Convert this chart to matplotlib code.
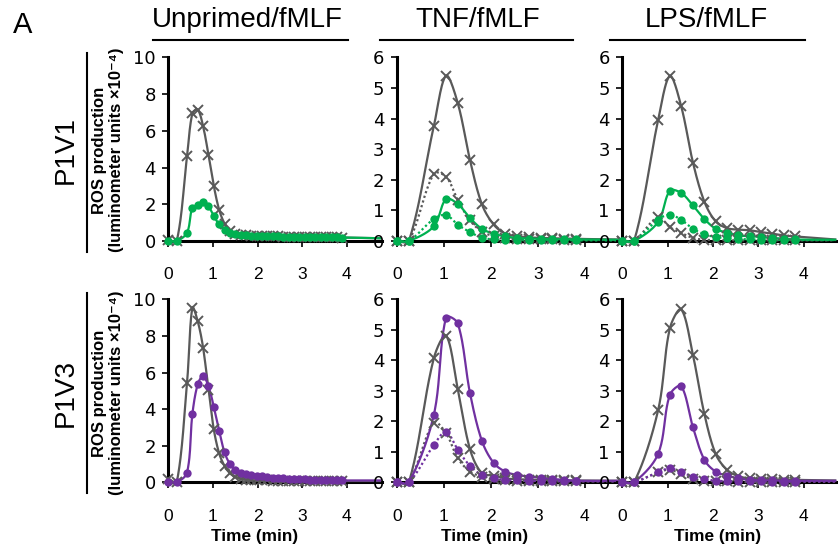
import numpy as np
import matplotlib
matplotlib.use("Agg")
import matplotlib.pyplot as plt
from matplotlib.lines import Line2D

plt.rcParams['font.family'] = ['Liberation Sans', 'DejaVu Sans']

# ---- data (ROS production, luminometer units x10^-4) ----
# time points (min); last value is the unmarked tail of each trace
t_unprimed = [0, 0.19, 0.42, 0.54, 0.66, 0.78, 0.90, 1.02, 1.14, 1.26, 1.38, 1.50,
              1.62, 1.74, 1.86, 1.98, 2.10, 2.22, 2.34, 2.46, 2.58, 2.70, 2.82, 2.94,
              3.06, 3.18, 3.30, 3.42, 3.54, 3.66, 3.78, 3.90, 4.75]
t_primed = [0, 0.26, 0.79, 1.05, 1.30, 1.56, 1.81, 2.06, 2.31, 2.56, 2.81, 3.06,
            3.31, 3.56, 3.81, 4.70]

# P1V1 row
p1v1_unp_gray = [0.05, 0, 4.6, 6.95, 7.15, 6.25, 4.7, 3.0, 1.7, 0.95, 0.55, 0.4,
                 0.34, 0.31, 0.29, 0.28, 0.27, 0.26, 0.25, 0.25, 0.24, 0.24, 0.23, 0.23,
                 0.22, 0.22, 0.21, 0.21, 0.2, 0.2, 0.2, 0.19, 0.15]
p1v1_unp_col = [0, 0, 0.45, 1.82, 1.95, 2.15, 1.9, 1.36, 0.9, 0.6, 0.44, 0.38,
                0.34, 0.31, 0.29, 0.28, 0.27, 0.26, 0.25, 0.25, 0.24, 0.24, 0.23, 0.23,
                0.22, 0.22, 0.21, 0.21, 0.2, 0.2, 0.2, 0.19, 0.15]
p1v1_tnf_gray = [0, 0, 3.75, 5.4, 4.5, 2.64, 1.21, 0.54, 0.24, 0.16, 0.12, 0.1, 0.09, 0.08, 0.07, 0.05]
p1v1_tnf_gray_dot = [0, 0, 2.2, 2.1, 1.34, 0.67, 0.31, 0.16, 0.1, 0.08, 0.06, 0.05, 0.05, 0.04, 0.04, 0.03]
p1v1_tnf_col = [0, 0, 0.48, 1.37, 1.21, 0.75, 0.4, 0.24, 0.15, 0.1, 0.08, 0.07, 0.06, 0.05, 0.05, 0.04]
p1v1_tnf_col_dot = [0, 0, 0.72, 0.85, 0.53, 0.29, 0.11, 0.05, 0.04, 0.03, 0.03, 0.03, 0.02, 0.02, 0.02, 0.02]
p1v1_lps_gray = [0, 0, 3.94, 5.39, 4.4, 2.56, 1.29, 0.64, 0.42, 0.37, 0.35, 0.29, 0.24, 0.18, 0.15, 0.05]
p1v1_lps_gray_dot = [0, 0, 0.78, 0.45, 0.26, 0.1, 0.04, 0.03, 0.03, 0.02, 0.02, 0.02, 0.02, 0.02, 0.02, 0.02]
p1v1_lps_col = [0, 0, 0.62, 1.64, 1.57, 1.16, 0.72, 0.4, 0.27, 0.18, 0.16, 0.13, 0.1, 0.08, 0.05, 0.04]
p1v1_lps_col_dot = [0, 0, 0.7, 0.86, 0.69, 0.4, 0.22, 0.13, 0.1, 0.07, 0.05, 0.04, 0.04, 0.03, 0.03, 0.03]

# P1V3 row
p1v3_unp_gray = [0.2, 0, 5.44, 9.55, 8.8, 7.36, 5.07, 2.89, 1.58, 0.9, 0.5, 0.3,
                 0.2, 0.15, 0.12, 0.11, 0.1, 0.1, 0.09, 0.09, 0.09, 0.08, 0.08, 0.08,
                 0.08, 0.08, 0.07, 0.07, 0.07, 0.07, 0.07, 0.07, 0.07]
p1v3_unp_col = [0, 0, 0.53, 3.73, 5.36, 5.8, 5.25, 4.13, 2.82, 1.64, 1.0, 0.67,
                0.52, 0.45, 0.4, 0.36, 0.32, 0.29, 0.26, 0.24, 0.22, 0.2, 0.18, 0.17,
                0.16, 0.15, 0.14, 0.13, 0.12, 0.12, 0.11, 0.1, 0.1]
p1v3_tnf_gray = [0, 0, 4.07, 4.81, 3.06, 1.08, 0.3, 0.22, 0.13, 0.1, 0.09, 0.08, 0.07, 0.06, 0.06, 0.05]
p1v3_tnf_gray_dot = [0, 0, 1.96, 1.61, 0.79, 0.35, 0.19, 0.1, 0.06, 0.05, 0.04, 0.04, 0.03, 0.03, 0.03, 0.03]
p1v3_tnf_col = [0, 0, 2.21, 5.4, 5.21, 2.92, 1.37, 0.64, 0.35, 0.24, 0.19, 0.15, 0.11, 0.08, 0.05, 0.05]
p1v3_tnf_col_dot = [0, 0, 1.22, 1.66, 1.06, 0.54, 0.24, 0.13, 0.08, 0.06, 0.05, 0.04, 0.04, 0.03, 0.03, 0.03]
p1v3_lps_gray = [0, 0, 2.36, 5.05, 5.67, 4.17, 2.25, 0.93, 0.41, 0.2, 0.13, 0.11, 0.1, 0.09, 0.08, 0.06]
p1v3_lps_gray_dot = [0, 0, 0.33, 0.41, 0.27, 0.11, 0.05, 0.03, 0.03, 0.02, 0.02, 0.02, 0.02, 0.02, 0.02, 0.02]
p1v3_lps_col = [0, 0, 0.93, 2.87, 3.15, 1.8, 0.74, 0.35, 0.22, 0.13, 0.09, 0.07, 0.06, 0.05, 0.05, 0.05]
p1v3_lps_col_dot = [0, 0, 0.33, 0.46, 0.33, 0.19, 0.11, 0.05, 0.04, 0.03, 0.03, 0.03, 0.02, 0.02, 0.02, 0.02]

col_titles = ["Unprimed/fMLF", "TNF/fMLF", "LPS/fMLF"]
row_titles = ["P1V1", "P1V3"]
GRAY = "#595959"
GREEN = "#00B050"
PURPLE = "#7030A0"
DOT = (0, (1, 1.2))


def smooth(x, y, sx, sy, n=24):
    # smoothed line through the points; tangents weighted by segment length
    # (in screen-like units) so short flat stretches do not overshoot much
    p = np.column_stack([np.asarray(x, float) * sx, np.asarray(y, float) * sy])
    p = np.vstack([p[0], p, p[-1]])
    seg = np.hypot(*np.diff(p, axis=0).T)
    out = []
    for i in range(1, len(p) - 2):
        a, b, c = seg[i - 1], seg[i], seg[i + 1]
        w1 = b / (a + b) / 3 if a + b > 0 else 0
        w2 = b / (b + c) / 3 if b + c > 0 else 0
        b0 = p[i]
        b1 = p[i] + (p[i + 1] - p[i - 1]) * w1
        b2 = p[i + 1] - (p[i + 2] - p[i]) * w2
        b3 = p[i + 1]
        s = np.linspace(0, 1, n)[:, None]
        out.append((1 - s) ** 3 * b0 + 3 * (1 - s) ** 2 * s * b1 + 3 * (1 - s) * s ** 2 * b2 + s ** 3 * b3)
    out = np.vstack(out)
    return out[:, 0] / sx, out[:, 1] / sy


def trace(ax, t, v, color, marker, ls, sx, sy):
    t = np.array(t)
    v = np.array(v)
    lx, ly = smooth(t, v, sx, sy)
    ax.plot(lx, ly, color=color, lw=1.6, ls=ls, clip_on=False, zorder=3)
    m = t <= 4.0
    if marker == "x":
        ax.plot(t[m], v[m], ls="none", marker="x", ms=6.5, mew=1.4, color=color, clip_on=False, zorder=4)
    else:
        ax.plot(t[m], v[m], ls="none", marker="o", ms=6, mew=0, color=color, clip_on=False, zorder=4)


fig = plt.figure(figsize=(8.38, 5.48), dpi=100)
W, H = 838.0, 548.0

# axes pixel boxes: (left, right, xmax)
xboxes = [(168.3, 382.4, 4.8), (396.7, 617.6, 4.7), (622.3, 837.5, 4.75)]
yboxes = [(57.3, 241.0), (299.3, 482.3)]

panels = [
    [(t_unprimed, [(p1v1_unp_gray, GRAY, "x", "-"), (p1v1_unp_col, GREEN, "o", "-")]),
     (t_primed, [(p1v1_tnf_gray, GRAY, "x", "-"), (p1v1_tnf_gray_dot, GRAY, "x", DOT),
                 (p1v1_tnf_col, GREEN, "o", "-"), (p1v1_tnf_col_dot, GREEN, "o", DOT)]),
     (t_primed, [(p1v1_lps_gray, GRAY, "x", "-"), (p1v1_lps_gray_dot, GRAY, "x", DOT),
                 (p1v1_lps_col, GREEN, "o", "-"), (p1v1_lps_col_dot, GREEN, "o", DOT)])],
    [(t_unprimed, [(p1v3_unp_gray, GRAY, "x", "-"), (p1v3_unp_col, PURPLE, "o", "-")]),
     (t_primed, [(p1v3_tnf_gray, GRAY, "x", "-"), (p1v3_tnf_gray_dot, GRAY, "x", DOT),
                 (p1v3_tnf_col, PURPLE, "o", "-"), (p1v3_tnf_col_dot, PURPLE, "o", DOT)]),
     (t_primed, [(p1v3_lps_gray, GRAY, "x", "-"), (p1v3_lps_gray_dot, GRAY, "x", DOT),
                 (p1v3_lps_col, PURPLE, "o", "-"), (p1v3_lps_col_dot, PURPLE, "o", DOT)])],
]

for r in range(2):
    top, bot = yboxes[r]
    for c in range(3):
        left, right, xmax = xboxes[c]
        ax = fig.add_axes([left / W, 1 - bot / H, (right - left) / W, (bot - top) / H])
        ymax = 10 if c == 0 else 6
        sx = (right - left) / xmax
        sy = (bot - top) / ymax
        t, series = panels[r][c]
        for v, color, marker, ls in series:
            trace(ax, t, v, color, marker, ls, sx, sy)
        ax.set_xlim(0, xmax)
        ax.set_ylim(0, ymax)
        ax.set_yticks(np.arange(0, ymax + 1, 2 if c == 0 else 1))
        ax.set_xticks([0, 1, 2, 3, 4])
        for s in ["top", "right"]:
            ax.spines[s].set_visible(False)
        for s in ["left", "bottom"]:
            ax.spines[s].set_linewidth(2.2)
            ax.spines[s].set_zorder(2)
        ax.tick_params(axis="x", length=4, width=1.2, pad=15, labelsize=12.5)
        ax.tick_params(axis="y", length=4, width=1.2, pad=5, labelsize=13)
        for lab in ax.get_yticklabels():
            lab.set_fontfamily("DejaVu Sans")
        ax.patch.set_alpha(0)

# titles / labels
fig.text(13 / W, 1 - 25 / H, "A", fontsize=21, va="center", ha="left")
title_x = [247, 478, 706]
underline = [(153, 348), (380, 573), (610, 805)]
for name, x, (a, b) in zip(col_titles, title_x, underline):
    fig.text(x / W, 1 - 20 / H, name, fontsize=20, ha="center", va="center")
    fig.add_artist(Line2D([a / W, b / W], [1 - 40 / H, 1 - 40 / H], color="black", lw=1.5))

row_y = [150, 393]
row_span = [(53, 252), (293, 493)]
for name, y, (a, b) in zip(row_titles, row_y, row_span):
    fig.text(66 / W, 1 - y / H, name, fontsize=20, rotation=90, ha="center", va="center")
    fig.add_artist(Line2D([87 / W, 87 / W], [1 - a / H, 1 - b / H], color="black", lw=1.5))
    fig.text(108 / W, 1 - y / H, "ROS production\n(luminometer units \u00d710\u207b\u2074)",
             fontsize=12, fontweight="bold", rotation=90, ha="center", va="center",
             multialignment="center", linespacing=1.15)

for x in [255, 485, 718]:
    fig.text(x / W, 1 - 537 / H, "Time (min)", fontsize=12.4, fontweight="bold",
             ha="center", va="center")

fig.savefig("out.png", dpi=100)
